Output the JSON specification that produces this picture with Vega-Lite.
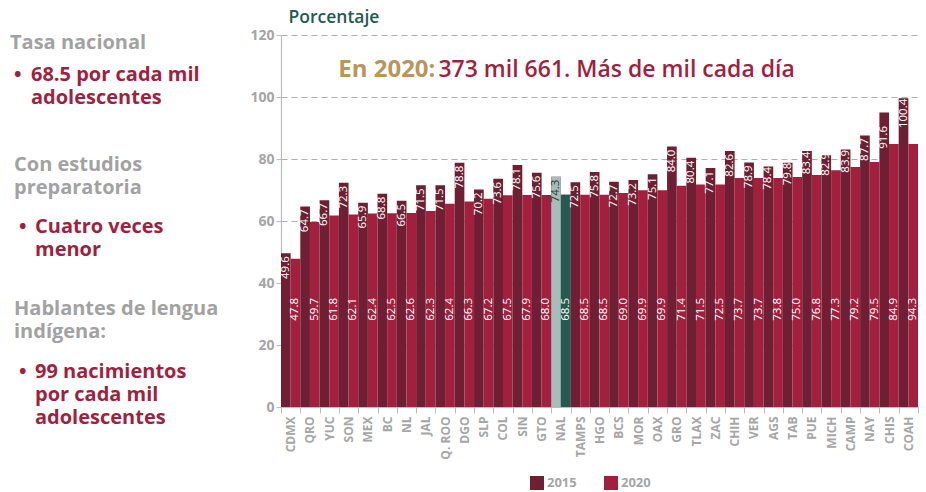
{
  "$schema": "https://vega.github.io/schema/vega-lite/v6.json",
  "background": "white",
  "padding": {"left": 0, "top": 8, "right": 4, "bottom": 0},
  "bounds": "flush",
  "spacing": 36,
  "resolve": {"scale": {"color": "independent"}, "legend": {"color": "independent"}},
  "config": {"view": {"stroke": null}, "font": "Open Sans"},
  "datasets": {
    "estados": [
      {"estado": "CDMX", "anio": "2015", "valor": 49.6, "etiqueta": 49.6},
      {"estado": "CDMX", "anio": "2020", "valor": 47.8, "etiqueta": 47.8},
      {"estado": "QRO", "anio": "2015", "valor": 64.7, "etiqueta": 64.7},
      {"estado": "QRO", "anio": "2020", "valor": 59.7, "etiqueta": 59.7},
      {"estado": "YUC", "anio": "2015", "valor": 66.7, "etiqueta": 66.7},
      {"estado": "YUC", "anio": "2020", "valor": 61.8, "etiqueta": 61.8},
      {"estado": "SON", "anio": "2015", "valor": 72.3, "etiqueta": 72.3},
      {"estado": "SON", "anio": "2020", "valor": 62.1, "etiqueta": 62.1},
      {"estado": "MEX", "anio": "2015", "valor": 65.9, "etiqueta": 65.9},
      {"estado": "MEX", "anio": "2020", "valor": 62.4, "etiqueta": 62.4},
      {"estado": "BC", "anio": "2015", "valor": 68.8, "etiqueta": 68.8},
      {"estado": "BC", "anio": "2020", "valor": 62.5, "etiqueta": 62.5},
      {"estado": "NL", "anio": "2015", "valor": 66.5, "etiqueta": 66.5},
      {"estado": "NL", "anio": "2020", "valor": 62.6, "etiqueta": 62.6},
      {"estado": "JAL", "anio": "2015", "valor": 71.5, "etiqueta": 71.5},
      {"estado": "JAL", "anio": "2020", "valor": 63.2, "etiqueta": 62.3},
      {"estado": "Q. ROO", "anio": "2015", "valor": 71.5, "etiqueta": 71.5},
      {"estado": "Q. ROO", "anio": "2020", "valor": 65.6, "etiqueta": 62.4},
      {"estado": "DGO", "anio": "2015", "valor": 78.8, "etiqueta": 78.8},
      {"estado": "DGO", "anio": "2020", "valor": 66.3, "etiqueta": 66.3},
      {"estado": "SLP", "anio": "2015", "valor": 70.2, "etiqueta": 70.2},
      {"estado": "SLP", "anio": "2020", "valor": 67.2, "etiqueta": 67.2},
      {"estado": "COL", "anio": "2015", "valor": 73.6, "etiqueta": 73.6},
      {"estado": "COL", "anio": "2020", "valor": 68.3, "etiqueta": 67.5},
      {"estado": "SIN", "anio": "2015", "valor": 78.1, "etiqueta": 78.1},
      {"estado": "SIN", "anio": "2020", "valor": 68.4, "etiqueta": 67.9},
      {"estado": "GTO", "anio": "2015", "valor": 75.6, "etiqueta": 75.6},
      {"estado": "GTO", "anio": "2020", "valor": 68.4, "etiqueta": 68.0},
      {"estado": "NAL", "anio": "2015", "valor": 74.3, "etiqueta": 74.3},
      {"estado": "NAL", "anio": "2020", "valor": 68.5, "etiqueta": 68.5},
      {"estado": "TAMPS", "anio": "2015", "valor": 72.5, "etiqueta": 72.5},
      {"estado": "TAMPS", "anio": "2020", "valor": 68.5, "etiqueta": 68.5},
      {"estado": "HGO", "anio": "2015", "valor": 75.8, "etiqueta": 75.8},
      {"estado": "HGO", "anio": "2020", "valor": 68.5, "etiqueta": 68.5},
      {"estado": "BCS", "anio": "2015", "valor": 72.7, "etiqueta": 72.7},
      {"estado": "BCS", "anio": "2020", "valor": 69.0, "etiqueta": 69.0},
      {"estado": "MOR", "anio": "2015", "valor": 73.2, "etiqueta": 73.2},
      {"estado": "MOR", "anio": "2020", "valor": 69.9, "etiqueta": 69.9},
      {"estado": "OAX", "anio": "2015", "valor": 75.1, "etiqueta": 75.1},
      {"estado": "OAX", "anio": "2020", "valor": 69.9, "etiqueta": 69.9},
      {"estado": "GRO", "anio": "2015", "valor": 84.0, "etiqueta": 84.0},
      {"estado": "GRO", "anio": "2020", "valor": 71.4, "etiqueta": 71.4},
      {"estado": "TLAX", "anio": "2015", "valor": 80.4, "etiqueta": 80.4},
      {"estado": "TLAX", "anio": "2020", "valor": 71.8, "etiqueta": 71.5},
      {"estado": "ZAC", "anio": "2015", "valor": 77.1, "etiqueta": 77.1},
      {"estado": "ZAC", "anio": "2020", "valor": 71.8, "etiqueta": 72.5},
      {"estado": "CHIH", "anio": "2015", "valor": 82.6, "etiqueta": 82.6},
      {"estado": "CHIH", "anio": "2020", "valor": 73.9, "etiqueta": 73.7},
      {"estado": "VER", "anio": "2015", "valor": 78.9, "etiqueta": 78.9},
      {"estado": "VER", "anio": "2020", "valor": 73.9, "etiqueta": 73.7},
      {"estado": "AGS", "anio": "2015", "valor": 77.6, "etiqueta": 78.4},
      {"estado": "AGS", "anio": "2020", "valor": 73.9, "etiqueta": 73.8},
      {"estado": "TAB", "anio": "2015", "valor": 78.8, "etiqueta": 79.8},
      {"estado": "TAB", "anio": "2020", "valor": 74.2, "etiqueta": 75.0},
      {"estado": "PUE", "anio": "2015", "valor": 82.6, "etiqueta": 83.4},
      {"estado": "PUE", "anio": "2020", "valor": 74.8, "etiqueta": 76.8},
      {"estado": "MICH", "anio": "2015", "valor": 81.2, "etiqueta": 82.9},
      {"estado": "MICH", "anio": "2020", "valor": 76.4, "etiqueta": 77.3},
      {"estado": "CAMP", "anio": "2015", "valor": 83.1, "etiqueta": 83.9},
      {"estado": "CAMP", "anio": "2020", "valor": 77.4, "etiqueta": 79.2},
      {"estado": "NAY", "anio": "2015", "valor": 87.6, "etiqueta": 87.7},
      {"estado": "NAY", "anio": "2020", "valor": 79.0, "etiqueta": 79.5},
      {"estado": "CHIS", "anio": "2015", "valor": 95.0, "etiqueta": 91.6},
      {"estado": "CHIS", "anio": "2020", "valor": 84.8, "etiqueta": 84.9},
      {"estado": "COAH", "anio": "2015", "valor": 99.6, "etiqueta": 100.4},
      {"estado": "COAH", "anio": "2020", "valor": 84.8, "etiqueta": 94.3}
    ],
    "notas": [
      {"texto": ["Tasa nacional"], "tipo": "encabezado", "renglon": 0.34, "sangria": 1.0},
      {"texto": ["•"], "tipo": "dato", "renglon": 1.72, "sangria": 1.4},
      {"texto": ["68.5 por cada mil", "adolescentes"], "tipo": "dato", "renglon": 1.72, "sangria": 3.1},
      {"texto": ["Con estudios", "preparatoria"], "tipo": "encabezado", "renglon": 5.59, "sangria": 1.4},
      {"texto": ["•"], "tipo": "dato", "renglon": 8.26, "sangria": 1.9},
      {"texto": ["Cuatro veces", "menor"], "tipo": "dato", "renglon": 8.26, "sangria": 3.5},
      {"texto": ["Hablantes de lengua", "indígena:"], "tipo": "encabezado", "renglon": 11.78, "sangria": 1.4},
      {"texto": ["•"], "tipo": "dato", "renglon": 14.49, "sangria": 1.9},
      {"texto": ["99 nacimientos", "por cada mil", "adolescentes"], "tipo": "dato", "renglon": 14.49, "sangria": 3.5}
    ]
  },
  "hconcat": [
    {
      "width": 245,
      "height": 395,
      "data": {"name": "notas"},
      "mark": {"type": "text", "align": "left", "baseline": "middle", "fontSize": 20, "fontWeight": "bold", "lineHeight": 23},
      "encoding": {
        "x": {"field": "sangria", "type": "quantitative", "scale": {"domain": [0, 24.5]}, "axis": null},
        "y": {"field": "renglon", "type": "quantitative", "scale": {"domain": [0, 17], "reverse": true}, "axis": null},
        "text": {"field": "texto"},
        "color": {"field": "tipo", "type": "nominal", "scale": {"domain": ["encabezado", "dato"], "range": ["#A2A2A2", "#A31F3E"]}, "legend": null}
      }
    },
    {
      "width": 637,
      "height": 372,
      "data": {"name": "estados"},
      "encoding": {
        "x": {
          "field": "estado", "type": "nominal", "sort": null,
          "scale": {"paddingInner": 0, "paddingOuter": 0},
          "axis": {
            "title": null, "labelAngle": -90, "labelAlign": "right", "labelBaseline": "middle",
            "labelFontSize": 12, "labelFontWeight": "bold", "labelColor": "#A6A6A6", "labelPadding": 3,
            "tickBand": "extent", "tickColor": "#BDBDBD", "tickSize": 6, "domainColor": "#BDBDBD", "domainWidth": 1.2
          }
        }
      },
      "layer": [
        {
          "mark": {"type": "bar"},
          "encoding": {
            "xOffset": {"field": "anio", "type": "nominal", "scale": {"paddingInner": 0, "paddingOuter": 0}},
            "y": {
              "field": "valor", "type": "quantitative",
              "scale": {"domain": [0, 120]},
              "axis": {
                "values": [0, 20, 40, 60, 80, 100, 120], "grid": true, "gridDash": [6, 4], "gridColor": "#AFAFAF", "gridWidth": 1.2,
                "domainColor": "#BDBDBD", "domainWidth": 1.2, "tickColor": "#BDBDBD", "tickSize": 5,
                "labelColor": "#A6A6A6", "labelFontWeight": "bold", "labelFontSize": 14, "labelPadding": 2,
                "title": "Porcentaje", "titleAngle": 0, "titleAlign": "left", "titleBaseline": "alphabetic",
                "titleX": 7, "titleY": -13, "titleColor": "#235B4E", "titleFontSize": 17.5, "titleFontWeight": 600
              }
            },
            "color": {
              "field": "anio", "type": "nominal",
              "scale": {"domain": ["2015", "2020"], "range": ["#6E1F34", "#A31F3E"]},
              "legend": {
                "title": null, "orient": "none", "direction": "horizontal", "legendX": 249, "legendY": 441,
                "symbolType": "square", "symbolSize": 196, "symbolStrokeWidth": 0, "symbolOpacity": 1,
                "labelFontSize": 13, "labelFontWeight": "bold", "labelColor": "#A6A6A6", "labelOffset": 3, "columnPadding": 27
              }
            }
          }
        },
        {
          "transform": [{"filter": "datum.estado === 'NAL'"}],
          "mark": {"type": "bar"},
          "encoding": {
            "xOffset": {"field": "anio", "type": "nominal"},
            "y": {"field": "valor", "type": "quantitative"},
            "color": {"condition": {"test": "datum.anio === '2015'", "value": "#A8BCB8"}, "value": "#235B4E"}
          }
        },
        {
          "transform": [{"filter": "datum.anio === '2015'"}],
          "mark": {"type": "text", "angle": 270, "align": "right", "baseline": "middle", "dx": -3, "fontSize": 11.5},
          "encoding": {
            "xOffset": {"field": "anio", "type": "nominal"},
            "y": {"field": "etiqueta", "type": "quantitative"},
            "text": {"field": "etiqueta", "type": "quantitative", "format": ".1f"},
            "color": {"condition": {"test": "datum.estado === 'NAL'", "value": "#2E3A36"}, "value": "white"}
          }
        },
        {
          "transform": [{"filter": "datum.anio === '2020'"}],
          "mark": {"type": "text", "angle": 270, "align": "center", "baseline": "middle", "fontSize": 11.5, "color": "white"},
          "encoding": {
            "xOffset": {"field": "anio", "type": "nominal"},
            "y": {"datum": 31.5},
            "text": {"field": "etiqueta", "type": "quantitative", "format": ".1f"}
          }
        },
        {
          "data": {"values": [{}]},
          "mark": {"type": "text", "align": "right", "baseline": "middle", "fontSize": 24, "fontWeight": "bold", "color": "#BC955C"},
          "encoding": {
            "x": {"datum": "JAL", "bandPosition": 1},
            "y": {"datum": 108.8},
            "text": {"value": "En 2020:"}
          }
        },
        {
          "data": {"values": [{}]},
          "mark": {"type": "text", "align": "left", "baseline": "middle", "dx": 3, "fontSize": 23, "fontWeight": 600, "color": "#A31F3E"},
          "encoding": {
            "x": {"datum": "JAL", "bandPosition": 1},
            "y": {"datum": 108.8},
            "text": {"value": "373 mil 661. Más de mil cada día"}
          }
        }
      ]
    }
  ]
}
